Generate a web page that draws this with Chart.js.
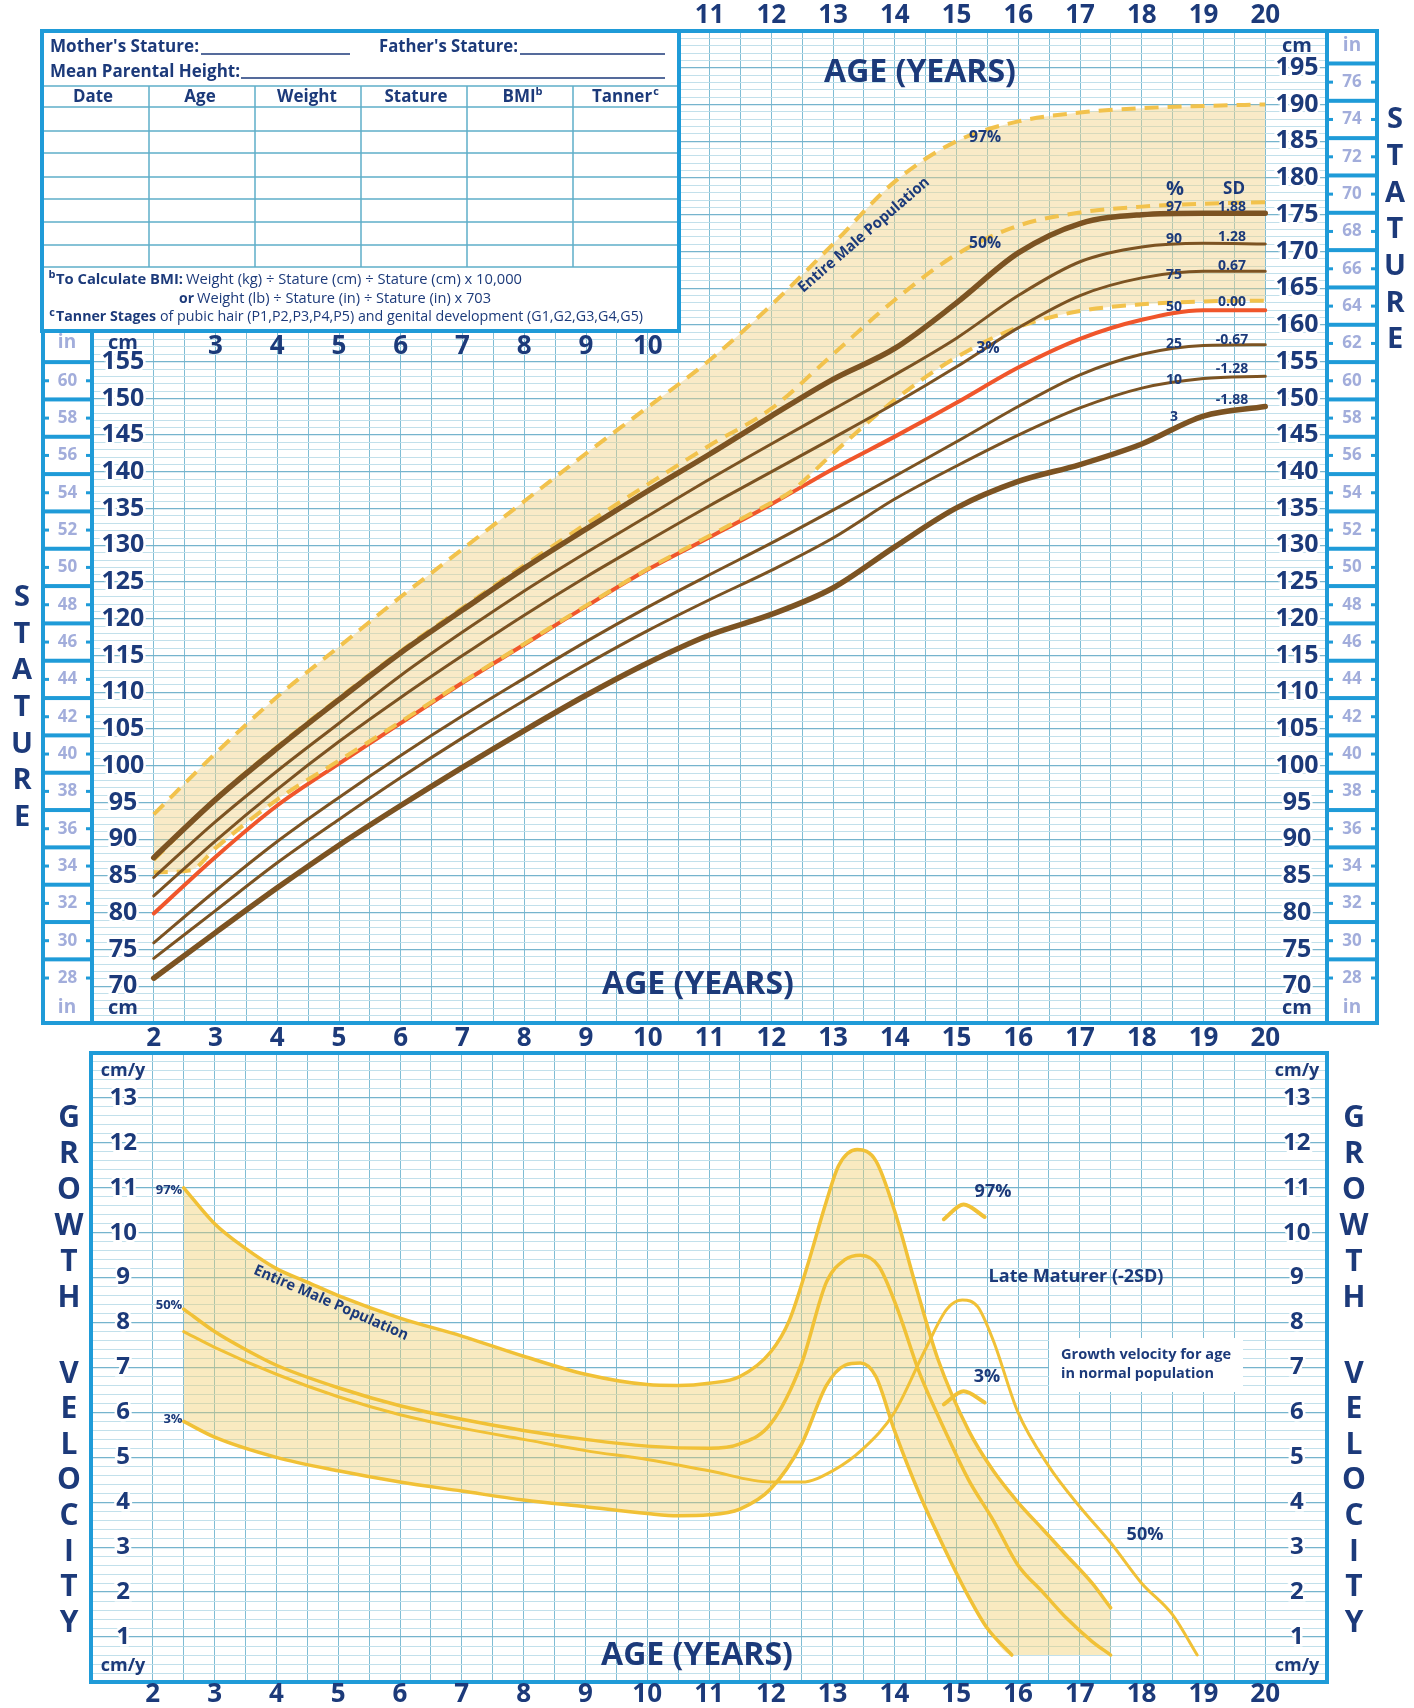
<!DOCTYPE html>
<html>
<head>
<meta charset="utf-8">
<title>Stature and growth velocity - boys 2 to 20 years</title>
<script src="https://cdn.jsdelivr.net/npm/chart.js@4.4.1/dist/chart.umd.min.js"></script>
<style>
  body { margin: 0; background: #fff; }
  #page { position: relative; width: 1414px; height: 1708px; overflow: hidden; }
  canvas { position: absolute; left: 0; }
  #stature { top: 0; }
  #velocity { top: 1050px; }
</style>
</head>
<body>
<div id="page">
  <canvas id="stature" width="1414" height="1050"></canvas>
  <canvas id="velocity" width="1414" height="658"></canvas>
</div>
<script>
// ---- stature (cm) by age, percentiles ----
const statAges = [2, 3, 4, 5, 6, 7, 8, 9, 10, 11, 12, 13, 14, 15, 16, 17, 18, 19, 20];
const p97 = [87.5, 95.4, 102.4, 109.0, 115.4, 121.2, 126.9, 132.2, 137.4, 142.4, 147.6, 152.6, 156.8, 163.0, 169.8, 173.8, 175.0, 175.2, 175.2];
const p90 = [84.8, 92.4, 99.3, 105.8, 112.3, 118.2, 123.8, 129.0, 134.0, 139.0, 143.8, 148.5, 153.2, 158.2, 164.0, 168.6, 170.6, 171.1, 171.0];
const p75 = [82.3, 89.8, 96.8, 103.3, 109.3, 115.0, 120.5, 125.7, 130.6, 135.4, 140.0, 144.6, 149.3, 154.3, 159.6, 164.0, 166.4, 167.3, 167.3];
const p50 = [79.9, 87.6, 94.6, 100.3, 105.8, 111.3, 116.5, 121.7, 126.7, 131.1, 135.6, 140.4, 144.8, 149.4, 154.2, 158.1, 160.7, 162.0, 162.0];
const p25 = [75.9, 83.0, 89.7, 95.7, 101.4, 106.8, 111.9, 116.9, 121.6, 126.0, 130.3, 134.8, 139.4, 144.1, 148.9, 153.2, 156.0, 157.2, 157.3];
const p10 = [73.8, 80.3, 86.8, 92.7, 98.4, 103.8, 108.9, 113.8, 118.4, 122.6, 126.6, 131.0, 136.3, 140.8, 145.0, 148.7, 151.4, 152.7, 153.0];
const p3 = [71.1, 77.3, 83.4, 89.2, 94.6, 99.8, 104.8, 109.6, 114.0, 117.8, 120.6, 124.2, 129.8, 135.1, 138.7, 141.0, 143.8, 147.6, 148.9];

// entire male population (dashed)
const pop97 = [93.4, 101.7, 109.4, 116.2, 123.0, 129.5, 136.0, 142.5, 148.8, 155.2, 162.7, 171.0, 179.5, 185.0, 187.7, 188.9, 189.5, 189.8, 190.0];
const pop50 = [87.2, 95.5, 102.6, 109.2, 115.6, 121.5, 127.3, 132.9, 138.3, 143.6, 148.6, 156.0, 163.4, 169.6, 173.5, 175.3, 176.1, 176.5, 176.7];
const pop3Ages = [2, 2.6, 3, 4, 5, 6, 7, 8, 9, 10, 11, 12, 12.3, 13, 14, 15, 16, 17, 18, 19, 20];
const pop3 = [85.5, 85.8, 88.8, 95.4, 100.7, 106.0, 111.4, 116.6, 121.8, 126.8, 131.3, 135.8, 137.2, 142.5, 149.8, 155.6, 159.7, 161.9, 162.8, 163.2, 163.3];

const pctLabels = ['97', '90', '75', '50', '25', '10', '3'];
const sdLabels = ['1.88', '1.28', '0.67', '0.00', '-0.67', '-1.28', '-1.88'];

// ---- growth velocity (cm/y) ----
const v97Ages = [2.5, 3, 3.5, 4, 4.5, 5, 6, 7, 8, 9, 10, 10.5, 11, 11.5, 12, 12.3, 12.6, 12.9, 13.1, 13.4, 13.7, 14, 14.35, 14.7, 15.2, 15.6, 16, 16.4, 16.8, 17.2, 17.5];
const v97 = [11.0, 10.2, 9.65, 9.2, 8.9, 8.6, 8.1, 7.7, 7.25, 6.85, 6.62, 6.6, 6.65, 6.8, 7.35, 8.05, 9.3, 10.7, 11.5, 11.85, 11.6, 10.5, 8.8, 7.2, 5.6, 4.7, 4.0, 3.4, 2.8, 2.2, 1.65];
const v50Ages = [2.5, 3, 3.5, 4, 5, 6, 7, 8, 9, 10, 11, 11.5, 12, 12.5, 12.9, 13.2, 13.45, 13.75, 14.05, 14.4, 14.85, 15.2, 15.6, 16, 16.4, 16.8, 17.2, 17.5];
const v50 = [8.3, 7.8, 7.4, 7.05, 6.55, 6.15, 5.85, 5.6, 5.4, 5.25, 5.2, 5.3, 5.75, 7.1, 8.9, 9.4, 9.5, 9.25, 8.3, 6.9, 5.5, 4.5, 3.6, 2.6, 2.0, 1.4, 0.9, 0.6];
const vLateAges = [2.5, 3, 4, 5, 6, 7, 8, 9, 10, 11, 12, 12.5, 13, 13.5, 14, 14.5, 14.85, 15.1, 15.35, 15.6, 16, 16.5, 17, 17.5, 18, 18.5, 18.9];
const vLate = [7.8, 7.45, 6.85, 6.35, 5.95, 5.65, 5.4, 5.15, 4.95, 4.7, 4.45, 4.45, 4.7, 5.2, 6.0, 7.4, 8.3, 8.5, 8.35, 7.6, 6.0, 4.8, 3.9, 3.1, 2.2, 1.5, 0.6];
const v3Ages = [2.5, 3, 4, 5, 6, 7, 8, 9, 10, 10.5, 11, 11.5, 12, 12.5, 12.9, 13.2, 13.45, 13.7, 14, 14.4, 14.8, 15.2, 15.5, 15.9];
const v3 = [5.8, 5.45, 5.0, 4.7, 4.45, 4.25, 4.05, 3.9, 3.75, 3.7, 3.72, 3.85, 4.3, 5.3, 6.6, 7.05, 7.1, 6.8, 5.6, 4.2, 3.0, 1.9, 1.2, 0.6];
const floorAges = [17.5];
const floorVals = [0.6];
const capAges = [14.8, 15.12, 15.46];
const cap97 = [10.3, 10.63, 10.35];
const cap3 = [6.18, 6.47, 6.22];

const NAVY = '#1c3a7a';
const BLUE = '#1f9bd8';
const PALE = '#a2addb';
const BROWN = '#7c5322';
const RED = '#f0562b';
const GOLD = '#f2c24c';
const VGOLD = '#f1c136';
const GRID_V = '#80bdd4';
const GRID_MAJOR = '#76b4cd';
const GRID_MINOR = '#c2e0eb';
const FONT = '"Open Sans", sans-serif';

const pts = (xs, ys) => xs.map((x, i) => ({ x: x, y: ys[i] }));

function line(xs, ys, color, width, extra) {
  return Object.assign({
    data: pts(xs, ys),
    borderColor: color,
    borderWidth: width,
    pointRadius: 0,
    fill: false,
    cubicInterpolationMode: 'monotone',
    borderCapStyle: 'round'
  }, extra || {});
}

function txt(ctx, s, x, y, size, o) {
  o = o || {};
  ctx.save();
  ctx.font = (o.weight || 700) + ' ' + size + 'px ' + FONT;
  ctx.fillStyle = o.color || NAVY;
  ctx.textAlign = o.align || 'center';
  ctx.textBaseline = 'middle';
  ctx.translate(x, y);
  if (o.rot) ctx.rotate(o.rot * Math.PI / 180);
  if (o.w) ctx.fillText(s, 0, 0, o.w); else ctx.fillText(s, 0, 0);
  ctx.restore();
}

function hline(ctx, x1, x2, y, color, w) {
  ctx.strokeStyle = color; ctx.lineWidth = w;
  ctx.beginPath(); ctx.moveTo(x1, y); ctx.lineTo(x2, y); ctx.stroke();
}
function vline(ctx, x, y1, y2, color, w) {
  ctx.strokeStyle = color; ctx.lineWidth = w;
  ctx.beginPath(); ctx.moveTo(x, y1); ctx.lineTo(x, y2); ctx.stroke();
}

// grid helpers
const ageGrid = (c) => (c.tick.value < 2 || c.tick.value > 20) ? 'rgba(0,0,0,0)' : GRID_V;
// keep axes from eating into the plot area (labels are drawn inside it)
const flatX = (s) => { s.height = 0; s.paddingLeft = 0; s.paddingRight = 0; s.paddingTop = 0; s.paddingBottom = 0; };
const flatY = (s) => { s.width = 0; s.paddingLeft = 0; s.paddingRight = 0; s.paddingTop = 0; s.paddingBottom = 0; };
const isWhole = (v) => Math.abs(v - Math.round(v)) < 1e-6;

function ageAxis() {
  return {
    type: 'linear', min: 1, max: 21,
    ticks: { display: false, stepSize: 0.5, autoSkip: false },
    grid: { color: ageGrid, lineWidth: 1, drawTicks: false },
    border: { display: false },
    afterFit: flatX
  };
}

function inchColumn(ctx, yScale, x1, x2, lo, hi) {
  for (let i = lo + 1; i <= hi + 1; i += 2) {
    const py = yScale.getPixelForValue(i * 2.54);
    ctx.fillStyle = BLUE;
    ctx.fillRect(x1, py - 2, x2 - x1, 4);
  }
  for (let i = lo; i <= hi; i += 2) {
    const py = yScale.getPixelForValue(i * 2.54);
    ctx.fillStyle = BLUE;
    ctx.fillRect(x1, py - 1.5, 6, 3);
    ctx.fillRect(x2 - 6, py - 1.5, 6, 3);
    txt(ctx, String(i), (x1 + x2) / 2, py, 17, { color: PALE });
  }
}

const statureDecor = {
  id: 'statureDecor',
  afterDraw(chart) {
    const ctx = chart.ctx;
    const x = chart.scales.x, y = chart.scales.y;

    // info box
    ctx.fillStyle = '#fff';
    ctx.fillRect(42, 31, 637, 300);
    txt(ctx, "Mother's Stature:", 50, 47, 18, { align: 'left', w: 149 });
    hline(ctx, 201, 350, 54, NAVY, 1.5);
    txt(ctx, "Father's Stature:", 379, 47, 18, { align: 'left', w: 139 });
    hline(ctx, 520, 665, 54, NAVY, 1.5);
    txt(ctx, 'Mean Parental Height:', 50, 72, 18, { align: 'left', w: 190 });
    hline(ctx, 241, 665, 78, NAVY, 1.5);
    const rows = [86, 107, 131, 153, 177, 199, 222, 245, 267];
    rows.forEach(r => hline(ctx, 42, 679, r, '#5eaec8', 1.5));
    [149, 255, 361, 467, 573].forEach(c => vline(ctx, c, 86, 267, '#5eaec8', 1.5));
    const heads = [['Date', 93, 40], ['Age', 200, 36], ['Weight', 307, 62], ['Stature', 416, 63], ['BMI', 519, 34], ['Tanner', 622, 61]];
    heads.forEach(h => txt(ctx, h[0], h[1], 97, 17, { w: h[2] }));
    txt(ctx, 'b', 539, 92, 11, {});
    txt(ctx, 'c', 656, 92, 11, {});
    txt(ctx, 'b', 52, 275, 11, {});
    txt(ctx, 'To Calculate BMI:', 56, 280, 15, { align: 'left', w: 127 });
    txt(ctx, 'Weight (kg) \u00f7 Stature (cm) \u00f7 Stature (cm) x 10,000', 186, 280, 15, { align: 'left', weight: 400, w: 336 });
    txt(ctx, 'or', 179, 299, 15, { align: 'left', w: 15 });
    txt(ctx, 'Weight (lb) \u00f7 Stature (in) \u00f7 Stature (in) x 703', 197, 299, 15, { align: 'left', weight: 400, w: 294 });
    txt(ctx, 'c', 52, 313, 11, {});
    txt(ctx, 'Tanner Stages', 56, 317, 15, { align: 'left', w: 100 });
    txt(ctx, 'of pubic hair (P1,P2,P3,P4,P5) and genital development (G1,G2,G3,G4,G5)', 160, 317, 15, { align: 'left', weight: 400, w: 483 });

    // frames
    ctx.strokeStyle = BLUE; ctx.lineWidth = 4;
    ctx.strokeRect(42, 31, 637, 300);
    ctx.strokeRect(43, 331, 49, 692);
    ctx.strokeRect(1327, 31, 50, 992);
    hline(ctx, 679, 1327, 31, BLUE, 4);
    hline(ctx, 43, 1377, 1023, BLUE, 4);

    // inch columns
    inchColumn(ctx, y, 43, 92, 28, 60);
    inchColumn(ctx, y, 1327, 1377, 28, 76);
    txt(ctx, 'in', 67, 343, 19, { color: PALE });
    txt(ctx, 'in', 67, 1008, 19, { color: PALE });
    txt(ctx, 'in', 1352, 46, 19, { color: PALE });
    txt(ctx, 'in', 1352, 1008, 19, { color: PALE });
    txt(ctx, 'cm', 123, 343, 20, {});
    txt(ctx, 'cm', 123, 1008, 20, {});
    txt(ctx, 'cm', 1297, 46, 20, {});
    txt(ctx, 'cm', 1297, 1008, 20, {});

    // age labels
    for (let a = 11; a <= 20; a++) txt(ctx, String(a), x.getPixelForValue(a), 16, 26);
    for (let a = 3; a <= 10; a++) txt(ctx, String(a), x.getPixelForValue(a), 347, 26);
    for (let a = 2; a <= 20; a++) txt(ctx, String(a), x.getPixelForValue(a), 1039, 26);
    txt(ctx, 'AGE (YEARS)', 920, 73, 32, { w: 198 });
    txt(ctx, 'AGE (YEARS)', 698, 985, 32, { w: 198 });

    // vertical titles
    'STATURE'.split('').forEach((c, i) => {
      txt(ctx, c, 22, 598 + i * 36.6, 29);
      txt(ctx, c, 1395, 120 + i * 36.7, 29);
    });

    // curve annotations
    txt(ctx, '97%', 985, 137, 16, { w: 32 });
    txt(ctx, '50%', 985, 243, 16, { w: 32 });
    txt(ctx, '3%', 988, 348, 16, { w: 24 });
    txt(ctx, 'Entire Male Population', 864, 235, 15, { rot: -40.8, w: 168 });
    txt(ctx, '%', 1175, 189, 20, {});
    txt(ctx, 'SD', 1234, 189, 17, {});
    const pctY = [207, 239, 275, 307, 344, 380, 417];
    const sdY = [207, 237, 266, 302, 340, 369, 400];
    pctLabels.forEach((s, i) => txt(ctx, s, 1174, pctY[i], 14, {}));
    sdLabels.forEach((s, i) => txt(ctx, s, 1232, sdY[i], 14, {}));
  }
};

const velocityDecor = {
  id: 'velocityDecor',
  afterDraw(chart) {
    const ctx = chart.ctx;
    const x = chart.scales.x;
    ctx.strokeStyle = BLUE; ctx.lineWidth = 4;
    ctx.strokeRect(91, 3, 1236, 629);
    for (let a = 2; a <= 20; a++) txt(ctx, String(a), x.getPixelForValue(a), 645, 26);
    txt(ctx, 'AGE (YEARS)', 697, 606, 32, { w: 201 });
    txt(ctx, 'cm/y', 123, 21, 18, {});
    txt(ctx, 'cm/y', 123, 616, 18, {});
    txt(ctx, 'cm/y', 1297, 21, 18, {});
    txt(ctx, 'cm/y', 1297, 616, 18, {});
    'GROWTH'.split('').forEach((c, i) => {
      txt(ctx, c, 69, 68 + i * 36, 30);
      txt(ctx, c, 1354, 68 + i * 36, 30);
    });
    'VELOCITY'.split('').forEach((c, i) => {
      txt(ctx, c, 69, 324 + i * 35.6, 30);
      txt(ctx, c, 1354, 324 + i * 35.6, 30);
    });
    txt(ctx, '97%', 169, 140, 13, { w: 29 });
    txt(ctx, '50%', 169, 255, 13, { w: 29 });
    txt(ctx, '3%', 173, 369, 13, { w: 21 });
    txt(ctx, 'Entire Male Population', 331, 253, 15, { rot: 23.5, w: 167 });
    txt(ctx, '97%', 993, 142, 18, { w: 40 });
    txt(ctx, 'Late Maturer (-2SD)', 1076, 227, 18, { w: 188 });
    ctx.fillStyle = '#fff';
    ctx.fillRect(1049, 288, 194, 54);
    txt(ctx, 'Growth velocity for age', 1061, 305, 15, { align: 'left', w: 170 });
    txt(ctx, 'in normal population', 1061, 324, 15, { align: 'left', w: 153 });
    txt(ctx, '3%', 987, 327, 18, { w: 29 });
    txt(ctx, '50%', 1145, 485, 18, { w: 39 });
  }
};

const baseOptions = {
  responsive: false,
  animation: false,
  devicePixelRatio: 1,
  events: [],
  plugins: {
    legend: { display: false },
    tooltip: { enabled: false },
    filler: { drawTime: 'beforeDatasetsDraw' }
  }
};

// ---- stature chart ----
new Chart(document.getElementById('stature'), {
  type: 'line',
  data: {
    datasets: [
      line(statAges, pop97, 'rgba(0,0,0,0)', 0, { fill: 2, backgroundColor: 'rgba(241, 208, 130, 0.45)', order: 10 }),
      line(statAges, pop97, GOLD, 4, { borderDash: [14, 9], borderCapStyle: 'butt', order: 4 }),
      line(pop3Ages, pop3, GOLD, 4, { borderDash: [14, 9], borderCapStyle: 'butt', order: 4 }),
      line(statAges, pop50, GOLD, 4, { borderDash: [14, 9], borderCapStyle: 'butt', order: 4 }),
      line(statAges, p50, RED, 4, { order: 5 }),
      line(statAges, p97, BROWN, 5.5, { order: 3 }),
      line(statAges, p90, BROWN, 3, { order: 3 }),
      line(statAges, p75, BROWN, 3, { order: 3 }),
      line(statAges, p25, BROWN, 3, { order: 3 }),
      line(statAges, p10, BROWN, 3, { order: 3 }),
      line(statAges, p3, BROWN, 5.5, { order: 3 })
    ]
  },
  options: Object.assign({}, baseOptions, {
    layout: { padding: { left: 92, right: 87, top: 31, bottom: 27 } },
    scales: {
      x: ageAxis(),
      y: {
        type: 'linear', position: 'left', min: 65, max: 200,
        ticks: {
          stepSize: 1, autoSkip: false, mirror: true, crossAlign: 'center', padding: 9.5,
          color: NAVY, font: { family: FONT, size: 25, weight: 'bold', lineHeight: 1 },
          textStrokeColor: '#fff', textStrokeWidth: 5,
          callback: (v) => (v % 5 === 0 && v >= 70 && v <= 155) ? String(v) : ''
        },
        grid: {
          drawTicks: false,
          color: (c) => c.tick.value % 5 === 0 ? GRID_MAJOR : GRID_MINOR,
          lineWidth: (c) => c.tick.value % 5 === 0 ? 1.3 : 1
        },
        border: { display: false },
        afterFit: flatY
      },
      y2: {
        type: 'linear', position: 'right', min: 65, max: 200,
        ticks: {
          stepSize: 5, autoSkip: false, mirror: true, crossAlign: 'center', padding: -8.5,
          color: NAVY, font: { family: FONT, size: 25, weight: 'bold', lineHeight: 1 },
          textStrokeColor: '#fff', textStrokeWidth: 5,
          callback: (v) => (v >= 70 && v <= 195) ? String(v) : ''
        },
        grid: { display: false, drawTicks: false },
        border: { display: false },
        afterFit: flatY
      }
    }
  }),
  plugins: [statureDecor]
});

// ---- velocity chart ----
const velTickFont = { family: FONT, size: 24, weight: 'bold', lineHeight: 1 };
const velLabel = (v) => (isWhole(v) && v >= 1 && v <= 13) ? String(Math.round(v)) : '';

new Chart(document.getElementById('velocity'), {
  type: 'line',
  data: {
    datasets: [
      line(v97Ages, v97, 'rgba(0,0,0,0)', 0, { fill: 1, backgroundColor: 'rgba(241, 204, 105, 0.42)', order: 10 }),
      line(v3Ages.concat(floorAges), v3.concat(floorVals), 'rgba(0,0,0,0)', 0, { order: 10 }),
      line(v97Ages, v97, VGOLD, 3.5, { order: 2 }),
      line(v50Ages, v50, VGOLD, 3.5, { order: 2 }),
      line(vLateAges, vLate, VGOLD, 3, { order: 2 }),
      line(v3Ages, v3, VGOLD, 3.5, { order: 2 }),
      line(capAges, cap97, VGOLD, 4, { order: 2 }),
      line(capAges, cap3, VGOLD, 4, { order: 2 })
    ]
  },
  options: Object.assign({}, baseOptions, {
    layout: { padding: { left: 91, right: 87, top: 3, bottom: 26 } },
    scales: {
      x: ageAxis(),
      y: {
        type: 'linear', position: 'left', min: 0, max: 14,
        ticks: {
          stepSize: 0.2, autoSkip: false, mirror: true, crossAlign: 'center', padding: 18.5,
          color: NAVY, font: velTickFont, textStrokeColor: '#fff', textStrokeWidth: 5,
          callback: velLabel
        },
        grid: {
          drawTicks: false,
          color: (c) => isWhole(c.tick.value) ? GRID_MAJOR : GRID_MINOR,
          lineWidth: (c) => isWhole(c.tick.value) ? 1.3 : 1
        },
        border: { display: false },
        afterFit: flatY
      },
      y2: {
        type: 'linear', position: 'right', min: 0, max: 14,
        ticks: {
          stepSize: 1, autoSkip: false, mirror: true, crossAlign: 'center', padding: -16.5,
          color: NAVY, font: velTickFont, textStrokeColor: '#fff', textStrokeWidth: 5,
          callback: velLabel
        },
        grid: { display: false, drawTicks: false },
        border: { display: false },
        afterFit: flatY
      }
    }
  }),
  plugins: [velocityDecor]
});
</script>
</body>
</html>
